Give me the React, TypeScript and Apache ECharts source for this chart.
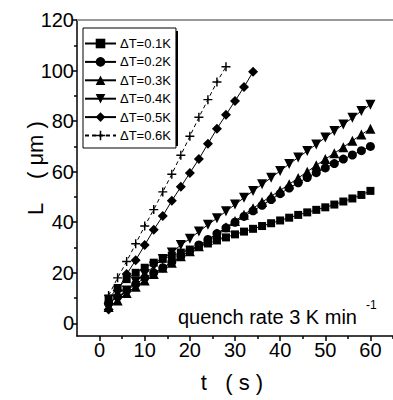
import React, { useEffect, useRef } from "react";
import * as echarts from "echarts";

const T_ALL = [2, 4, 6, 8, 10, 12, 14, 16, 18, 20, 22, 24, 26, 28, 30, 32, 34, 36, 38, 40, 42, 44, 46, 48, 50, 52, 54, 56, 58, 60];
const L_01 = [9.8, 14, 17.5, 20, 22, 24, 25.5, 26.8, 28, 29.2, 30.4, 31.6, 32.8, 34, 35.2, 36.3, 37.4, 38.5, 39.6, 40.7, 41.8, 42.9, 43.9, 44.9, 45.9, 47, 48.2, 49.4, 50.8, 52.4];
const L_02 = [8, 10.5, 13, 15.5, 18, 20, 22, 24.3, 26.5, 28.8, 31, 33.2, 35.5, 37.8, 40, 42.3, 44.5, 46.7, 49, 51.3, 53.5, 55.6, 57.7, 59.6, 61.5, 63.2, 65, 66.6, 68.3, 70];
const L_03 = [6.5, 9, 12, 14.5, 17, 19.5, 22, 24, 26.5, 28.5, 30.5, 33, 35.5, 38, 40.5, 43, 45.5, 48, 50.3, 52.6, 55, 57.5, 60, 62.5, 65, 67.3, 69.7, 72.2, 74.7, 77];
const L_04 = [6, 9.5, 13, 16.5, 19.5, 22.5, 25.5, 28, 31, 33.5, 36.3, 39, 41.6, 44.3, 47, 49.7, 52.4, 55, 57.6, 60.3, 63, 65.6, 68.2, 70.8, 73.5, 76.1, 78.7, 81.3, 84, 86.5];
const T_05 = [2, 4, 6, 8, 10, 12, 14, 16, 18, 20, 22, 24, 26, 28, 30, 32, 34];
const L_05 = [5.5, 13, 19.5, 25, 31, 37, 42.5, 48.5, 54, 59.5, 65, 71, 77, 82.5, 88, 93.5, 99.5];
const T_06 = [2, 4, 6, 8, 10, 12, 14, 16, 18, 20, 22, 24, 26, 28];
const L_06 = [11, 18, 24.5, 31.5, 38.5, 45, 52, 59, 66.5, 74, 81.5, 88.5, 95.5, 101.5];

const SERIES_NAMES = ["ΔT=0.1K", "ΔT=0.2K", "ΔT=0.3K", "ΔT=0.4K", "ΔT=0.5K", "ΔT=0.6K"];
const X_MAJOR = [0, 10, 20, 30, 40, 50, 60];
const X_MINOR = [5, 15, 25, 35, 45, 55, 65];
const Y_MAJOR = [0, 20, 40, 60, 80, 100, 120];
const Y_MINOR = [10, 30, 50, 70, 90, 110];

const FONT = "'Liberation Sans', Arial, sans-serif";

const pairs = (t: number[], l: number[]) => t.map((v, i) => [v, l[i]]);

export default function App() {
  const ref = useRef<HTMLDivElement>(null);
  useEffect(() => {
    if (!ref.current) return;
    const chart = echarts.init(ref.current, null, { renderer: "svg" });
    const symbols = [
      "rect",
      "circle",
      "triangle",
      "path://M0,0L10,0L5,10Z",
      "diamond",
      "path://M4.2,0h1.6v4.2h4.2v1.6h-4.2v4.2h-1.6v-4.2h-4.2v-1.6h4.2z",
    ];
    const sizes = [8, 9, 10, 10, 10, 9];
    const data = [
      pairs(T_ALL, L_01),
      pairs(T_ALL, L_02),
      pairs(T_ALL, L_03),
      pairs(T_ALL, L_04),
      pairs(T_05, L_05),
      pairs(T_06, L_06),
    ];
    const series: any[] = data.map((d, i) => ({
      type: "line",
      name: SERIES_NAMES[i],
      data: d,
      xAxisIndex: 0,
      yAxisIndex: 0,
      symbol: symbols[i],
      symbolSize: sizes[i],
      showAllSymbol: true,
      itemStyle: { color: "#000", borderWidth: 0 },
      lineStyle: { color: "#000", width: 1, type: i === 5 ? [4, 3] : "solid" },
      z: 2 + i,
    }));
    series.push({ type: "line", data: [], xAxisIndex: 1, yAxisIndex: 1, silent: true });
    const gridRect = { left: 77, top: 20, width: 317, height: 316 };
    const xBase = { type: "value", min: -5, max: 65, splitLine: { show: false } };
    const yBase = { type: "value", min: -5, max: 120, splitLine: { show: false } };
    chart.setOption({
      animation: false,
      grid: [{ ...gridRect }, { ...gridRect }],
      legend: {
        orient: "vertical",
        left: 83,
        top: 28,
        itemWidth: 31,
        itemHeight: 12,
        itemGap: 5.4,
        padding: [9, 5, 6, 1],
        backgroundColor: "#fff",
        borderColor: "#000",
        borderWidth: 1,
        data: SERIES_NAMES,
        textStyle: { fontFamily: FONT, fontSize: 13, color: "#000", padding: [0, 0, 0, -1] },
      },
      graphic: [
        { type: "rect", shape: { x: 77, y: 19, width: 316, height: 2 }, style: { fill: "#999" }, z: 10 },
        { type: "rect", shape: { x: 86, y: 31, width: 92, height: 115 }, style: { fill: "#000" }, z: 0 },
        {
          type: "text",
          x: 35,
          y: 168,
          rotation: Math.PI / 2,
          style: { text: "L    ( μm )", font: `22px ${FONT}`, fill: "#000", align: "center", verticalAlign: "middle" },
        },
        {
          type: "text",
          x: 232,
          y: 382,
          style: { text: "t   ( s )", font: `22px ${FONT}`, fill: "#000", align: "center", verticalAlign: "middle" },
        },
        {
          type: "text",
          x: 178,
          y: 317,
          style: { text: "quench rate 3 K min", font: `20px ${FONT}`, fill: "#000", align: "left", verticalAlign: "middle" },
        },
        {
          type: "text",
          x: 366,
          y: 305,
          style: { text: "-1", font: `12px ${FONT}`, fill: "#000", align: "left", verticalAlign: "middle" },
        },
      ],
      xAxis: [
        {
          ...xBase,
          gridIndex: 0,
          position: "bottom",
          axisLine: { show: true, onZero: false, lineStyle: { color: "#000", width: 1.5 } },
          axisTick: { show: true, length: 5, customValues: X_MAJOR, lineStyle: { color: "#000", width: 1.5 } },
          axisLabel: { customValues: X_MAJOR, color: "#000", fontSize: 20, fontFamily: FONT, margin: 4 },
        },
        {
          ...xBase,
          gridIndex: 1,
          position: "bottom",
          axisLine: { show: false, onZero: false },
          axisTick: { show: true, length: 3, customValues: X_MINOR, lineStyle: { color: "#000", width: 1.5 } },
          axisLabel: { show: false },
        },
      ],
      yAxis: [
        {
          ...yBase,
          gridIndex: 0,
          position: "left",
          axisLine: { show: true, onZero: false, lineStyle: { color: "#000", width: 1.5 } },
          axisTick: { show: true, length: 5, customValues: Y_MAJOR, lineStyle: { color: "#000", width: 1.5 } },
          axisLabel: { customValues: Y_MAJOR, color: "#000", fontSize: 20, fontFamily: FONT, margin: 3 },
        },
        {
          ...yBase,
          gridIndex: 1,
          position: "left",
          axisLine: { show: false, onZero: false },
          axisTick: { show: true, length: 3, customValues: Y_MINOR, lineStyle: { color: "#000", width: 1.5 } },
          axisLabel: { show: false },
        },
      ],
      series,
    });
    return () => chart.dispose();
  }, []);
  return <div ref={ref} style={{ position: "fixed", left: 0, top: 0, width: 393, height: 400, background: "#fff" }} />;
}
